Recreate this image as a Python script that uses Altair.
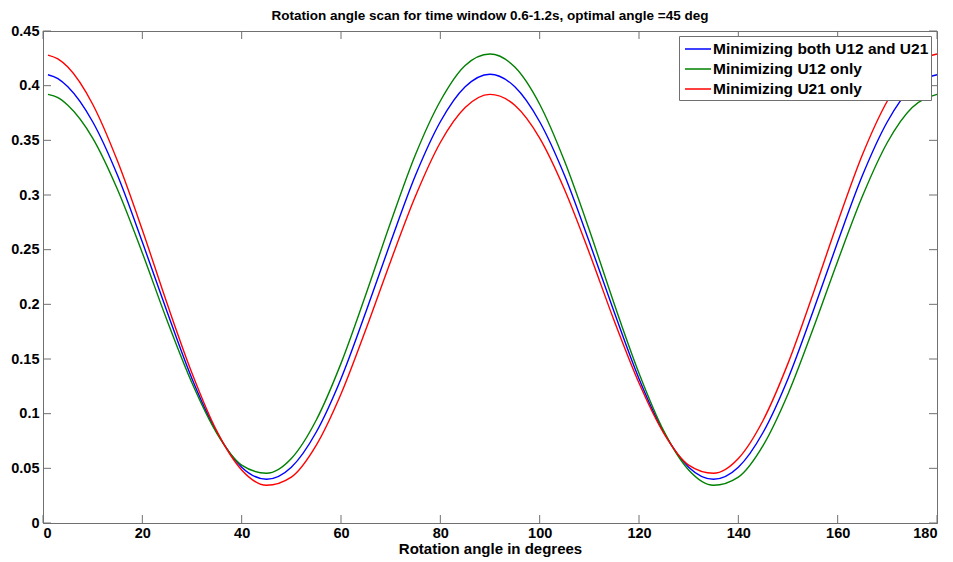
import altair as alt
import pandas as pd

angles = [1, 3, 5, 10, 15, 20, 25, 30, 35, 40, 45, 50, 55, 60, 65, 70, 75, 80, 85, 90,
          95, 100, 105, 110, 115, 120, 125, 130, 135, 140, 145, 150, 155, 160, 165, 170, 175, 180]

both = [0.410, 0.4065, 0.399, 0.367, 0.318, 0.257, 0.193, 0.132, 0.083, 0.051, 0.040, 0.051, 0.083, 0.132,
        0.193, 0.257, 0.318, 0.367, 0.399, 0.4105, 0.399, 0.367, 0.318, 0.257, 0.193, 0.132, 0.083,
        0.051, 0.040, 0.051, 0.083, 0.132, 0.193, 0.257, 0.318, 0.367, 0.399, 0.410]

u12_only = [0.392, 0.389, 0.382, 0.352, 0.305, 0.247, 0.185, 0.128, 0.082, 0.053, 0.0455, 0.059, 0.094, 0.146,
            0.209, 0.275, 0.337, 0.386, 0.4185, 0.429, 0.417, 0.383, 0.331, 0.268, 0.2005, 0.137, 0.084,
            0.0485, 0.0345, 0.042, 0.071, 0.118, 0.177, 0.2395, 0.299, 0.348, 0.380, 0.392]

u21_only = [0.428, 0.4245, 0.417, 0.383, 0.331, 0.268, 0.2005, 0.137, 0.084, 0.0485, 0.0345, 0.042, 0.071, 0.118,
            0.177, 0.2395, 0.299, 0.348, 0.380, 0.392, 0.382, 0.352, 0.305, 0.247, 0.185, 0.128, 0.082,
            0.053, 0.0455, 0.059, 0.094, 0.146, 0.209, 0.275, 0.337, 0.386, 0.4185, 0.429]

series_names = ["Minimizing both U12 and U21", "Minimizing U12 only", "Minimizing U21 only"]
series_colors = ["#0000ff", "#008000", "#ff0000"]

x_ticks = [0, 20, 40, 60, 80, 100, 120, 140, 160, 180]
y_ticks = [0, 0.05, 0.1, 0.15, 0.2, 0.25, 0.3, 0.35, 0.4, 0.45]

rows = []
for name, vals in zip(series_names, [both, u12_only, u21_only]):
    for a, v in zip(angles, vals):
        rows.append({"angle": a, "value": v, "series": name})
df = pd.DataFrame(rows)

W, H = 894, 492
FONT = "Liberation Sans"
GRAY = "#707070"

x_scale = alt.Scale(domain=[0, 180], nice=False, zero=False)
y_scale = alt.Scale(domain=[0, 0.45], nice=False)

lines = alt.Chart(df).mark_line(strokeWidth=1.4, interpolate="monotone").encode(
    x=alt.X("angle:Q", scale=x_scale,
            axis=alt.Axis(values=x_ticks, title="Rotation angle in degrees", ticks=False, grid=False,
                          format="d", labelPadding=3, titlePadding=2)),
    y=alt.Y("value:Q", scale=y_scale,
            axis=alt.Axis(values=y_ticks, title=None, ticks=False, grid=False, format="~g",
                          labelPadding=4)),
    color=alt.Color("series:N",
                    scale=alt.Scale(domain=series_names, range=series_colors),
                    legend=alt.Legend(title=None, orient="none", legendX=636, legendY=5,
                                      symbolType="M-0.7,0H1.9", symbolSize=400, symbolStrokeWidth=1.5,
                                      labelFont=FONT, labelFontSize=15.5, labelFontWeight="bold",
                                      labelColor="#000", labelOffset=10, labelLimit=0, rowPadding=0,
                                      fillColor="white", strokeColor=GRAY, padding=2)),
)

xt = pd.DataFrame({"t": x_ticks})
yt = pd.DataFrame({"t": y_ticks})

bottom_ticks = alt.Chart(xt).mark_rule(color=GRAY).encode(
    x=alt.X("t:Q", scale=x_scale), y=alt.value(H), y2=alt.value(H - 8))
top_ticks = alt.Chart(xt).mark_rule(color=GRAY).encode(
    x=alt.X("t:Q", scale=x_scale), y=alt.value(0), y2=alt.value(8))
left_ticks = alt.Chart(yt).mark_rule(color=GRAY).encode(
    y=alt.Y("t:Q", scale=y_scale), x=alt.value(0), x2=alt.value(8))
right_ticks = alt.Chart(yt).mark_rule(color=GRAY).encode(
    y=alt.Y("t:Q", scale=y_scale), x=alt.value(W), x2=alt.value(W - 8))

chart = alt.layer(bottom_ticks, top_ticks, left_ticks, right_ticks, lines).properties(
    width=W, height=H,
    title=alt.TitleParams("Rotation angle scan for time window 0.6-1.2s, optimal angle =45 deg",
                          font=FONT, fontSize=13.5, fontWeight="bold", color="#000",
                          anchor="middle", offset=1),
    autosize=alt.AutoSizeParams(type="none"),
    padding={"left": 35, "top": 23, "right": 8, "bottom": 38},
).configure(background="white").configure_view(stroke=GRAY, strokeWidth=1).configure_axis(
    domainColor=GRAY, labelFont=FONT, labelFontSize=14.5, labelFontWeight="bold", labelColor="#000",
    titleFont=FONT, titleFontSize=15, titleFontWeight="bold", titleColor="#000", grid=False,
)

chart.save("out.html", embed_options={"renderer": "svg", "actions": False})
